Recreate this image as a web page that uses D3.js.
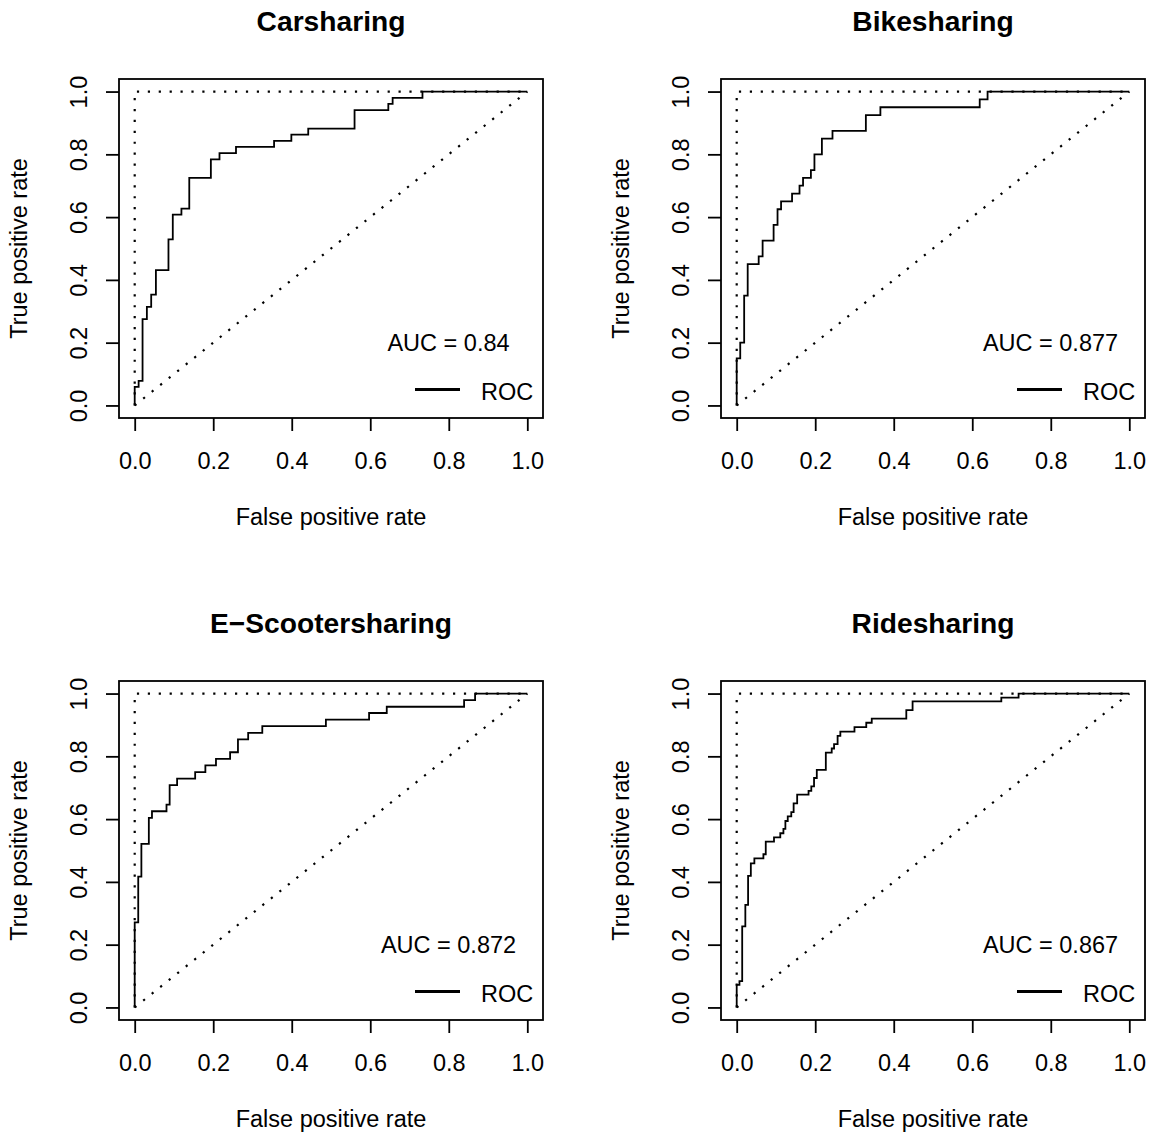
<!DOCTYPE html>
<html>
<head>
<meta charset="utf-8">
<script src="https://cdn.jsdelivr.net/npm/d3@7"></script>
<style>
  body { margin: 0; background: #fff; }
  text { font-family: "Liberation Sans", Arial, Helvetica, sans-serif; }
</style>
</head>
<body>
<script>
// panel titles and AUC labels
var titles = ["Carsharing", "Bikesharing", "E\u2212Scootersharing", "Ridesharing"];
var aucLabels = ["AUC = 0.84", "AUC = 0.877", "AUC = 0.872", "AUC = 0.867"];
var tickValues = [0, 0.2, 0.4, 0.6, 0.8, 1.0];

// ROC points (fpr where the curve jumps, tpr after the jump)
var carFpr = [0, 0, 0.010, 0.020, 0.031, 0.042, 0.054, 0.086, 0.097, 0.119, 0.139, 0.194, 0.216, 0.258, 0.355, 0.399, 0.442, 0.560, 0.646, 0.657, 0.733, 1];
var carTpr = [0, 0.059, 0.078, 0.275, 0.314, 0.353, 0.431, 0.529, 0.608, 0.627, 0.725, 0.784, 0.804, 0.824, 0.843, 0.863, 0.882, 0.941, 0.961, 0.980, 1, 1];

var bikeFpr = [0, 0, 0.009, 0.019, 0.028, 0.056, 0.066, 0.094, 0.104, 0.113, 0.141, 0.160, 0.169, 0.189, 0.198, 0.217, 0.244, 0.329, 0.366, 0.619, 0.639, 1];
var bikeTpr = [0, 0.150, 0.200, 0.350, 0.450, 0.475, 0.525, 0.575, 0.625, 0.650, 0.675, 0.700, 0.725, 0.750, 0.800, 0.850, 0.875, 0.925, 0.950, 0.975, 1, 1];

var scooterFpr = [0, 0, 0.009, 0.017, 0.036, 0.044, 0.081, 0.089, 0.108, 0.154, 0.180, 0.207, 0.243, 0.263, 0.289, 0.325, 0.487, 0.597, 0.642, 0.839, 0.867, 1];
var scooterTpr = [0, 0.271, 0.417, 0.521, 0.604, 0.625, 0.646, 0.708, 0.729, 0.750, 0.771, 0.792, 0.813, 0.854, 0.875, 0.896, 0.917, 0.938, 0.958, 0.979, 1, 1];

var rideFpr = [0, 0, 0.007, 0.014, 0.022, 0.029, 0.036, 0.045, 0.068, 0.074, 0.095, 0.111, 0.119, 0.124, 0.130, 0.139, 0.145, 0.154, 0.183, 0.190,
               0.197, 0.204, 0.227, 0.242, 0.248, 0.257, 0.264, 0.300, 0.330, 0.344, 0.432, 0.448, 0.674, 0.718, 1];
var rideTpr = [0, 0.072, 0.084, 0.258, 0.327, 0.419, 0.459, 0.475, 0.488, 0.528, 0.542, 0.555, 0.569, 0.594, 0.609, 0.622, 0.650, 0.678, 0.690, 0.704,
               0.731, 0.757, 0.812, 0.825, 0.839, 0.865, 0.879, 0.893, 0.907, 0.920, 0.947, 0.975, 0.987, 1, 1];

var fprs = [carFpr, bikeFpr, scooterFpr, rideFpr];
var tprs = [carTpr, bikeTpr, scooterTpr, rideTpr];

// layout of the 2x2 grid
var offsets = [[0, 0], [602, 0], [0, 602], [602, 602]];
var box = {left: 119, right: 543, top: 79, bottom: 418};
var lw = 1.8;
var dotted = "2.2,8.7";
var fontSize = "23.5px";

var svg = d3.select("body").append("svg")
    .attr("width", 1152)
    .attr("height", 1135);

function drawPanel(i) {
  var g = svg.append("g")
      .attr("transform", "translate(" + offsets[i][0] + "," + offsets[i][1] + ")");

  // R pads the data range by 4% on each side
  var x = d3.scaleLinear().domain([-0.04, 1.04]).range([box.left, box.right]);
  var y = d3.scaleLinear().domain([-0.04, 1.04]).range([box.bottom, box.top]);

  var line = d3.line()
      .x(function(d) { return x(d[0]); })
      .y(function(d) { return y(d[1]); });

  // perfect classifier and chance lines
  g.append("path")
      .attr("d", line([[0, 0], [0, 1], [1, 1]]))
      .attr("fill", "none").attr("stroke", "#000")
      .attr("stroke-width", 2.2).attr("stroke-dasharray", dotted);
  g.append("path")
      .attr("d", line([[0, 0], [1, 1]]))
      .attr("fill", "none").attr("stroke", "#000")
      .attr("stroke-width", 2.2).attr("stroke-dasharray", dotted);

  // ROC curve
  var fpr = fprs[i], tpr = tprs[i];
  var roc = d3.line()
      .curve(d3.curveStepAfter)
      .x(function(j) { return x(fpr[j]); })
      .y(function(j) { return y(tpr[j]); });
  g.append("path")
      .attr("d", roc(d3.range(fpr.length)))
      .attr("fill", "none").attr("stroke", "#000")
      .attr("stroke-width", lw);

  // box
  g.append("rect")
      .attr("x", box.left).attr("y", box.top)
      .attr("width", box.right - box.left).attr("height", box.bottom - box.top)
      .attr("fill", "none").attr("stroke", "#000").attr("stroke-width", lw);

  // x axis
  var xa = g.append("g")
      .attr("transform", "translate(0," + box.bottom + ")")
      .call(d3.axisBottom(x).tickValues(tickValues).tickFormat(d3.format(".1f"))
            .tickSize(13).tickPadding(21));
  xa.select(".domain").remove();
  xa.selectAll("line").attr("stroke-width", lw);
  xa.selectAll("text").attr("fill", "#000").style("font-size", fontSize)
      .style("font-family", '"Liberation Sans", Arial, sans-serif');

  // y axis, labels parallel to the axis
  var ya = g.append("g")
      .attr("transform", "translate(" + box.left + ",0)")
      .call(d3.axisLeft(y).tickValues(tickValues).tickFormat(d3.format(".1f")).tickSize(13));
  ya.select(".domain").remove();
  ya.selectAll("line").attr("stroke-width", lw);
  ya.selectAll("text")
      .attr("transform", "rotate(-90)")
      .attr("x", 0).attr("y", -32).attr("dy", "0")
      .attr("text-anchor", "middle")
      .attr("fill", "#000").style("font-size", fontSize)
      .style("font-family", '"Liberation Sans", Arial, sans-serif');

  // title and axis labels
  var cx = (box.left + box.right) / 2;
  g.append("text")
      .attr("x", cx).attr("y", 31)
      .attr("text-anchor", "middle")
      .style("font-size", "28.2px").style("font-weight", "bold")
      .text(titles[i]);
  g.append("text")
      .attr("x", cx).attr("y", 525)
      .attr("text-anchor", "middle")
      .style("font-size", fontSize)
      .text("False positive rate");
  g.append("text")
      .attr("transform", "translate(27," + (box.top + box.bottom) / 2 + ") rotate(-90)")
      .attr("text-anchor", "middle")
      .style("font-size", fontSize)
      .text("True positive rate");

  // legend
  g.append("text")
      .attr("x", box.right - 94.5).attr("y", 351)
      .attr("text-anchor", "middle")
      .style("font-size", fontSize)
      .text(aucLabels[i]);
  g.append("line")
      .attr("x1", box.right - 128).attr("x2", box.right - 83)
      .attr("y1", 389.5).attr("y2", 389.5)
      .attr("stroke", "#000").attr("stroke-width", 3);
  g.append("text")
      .attr("x", box.right - 62).attr("y", 399.5)
      .style("font-size", fontSize)
      .text("ROC");
}

for (var i = 0; i < 4; i++) drawPanel(i);
</script>
</body>
</html>
